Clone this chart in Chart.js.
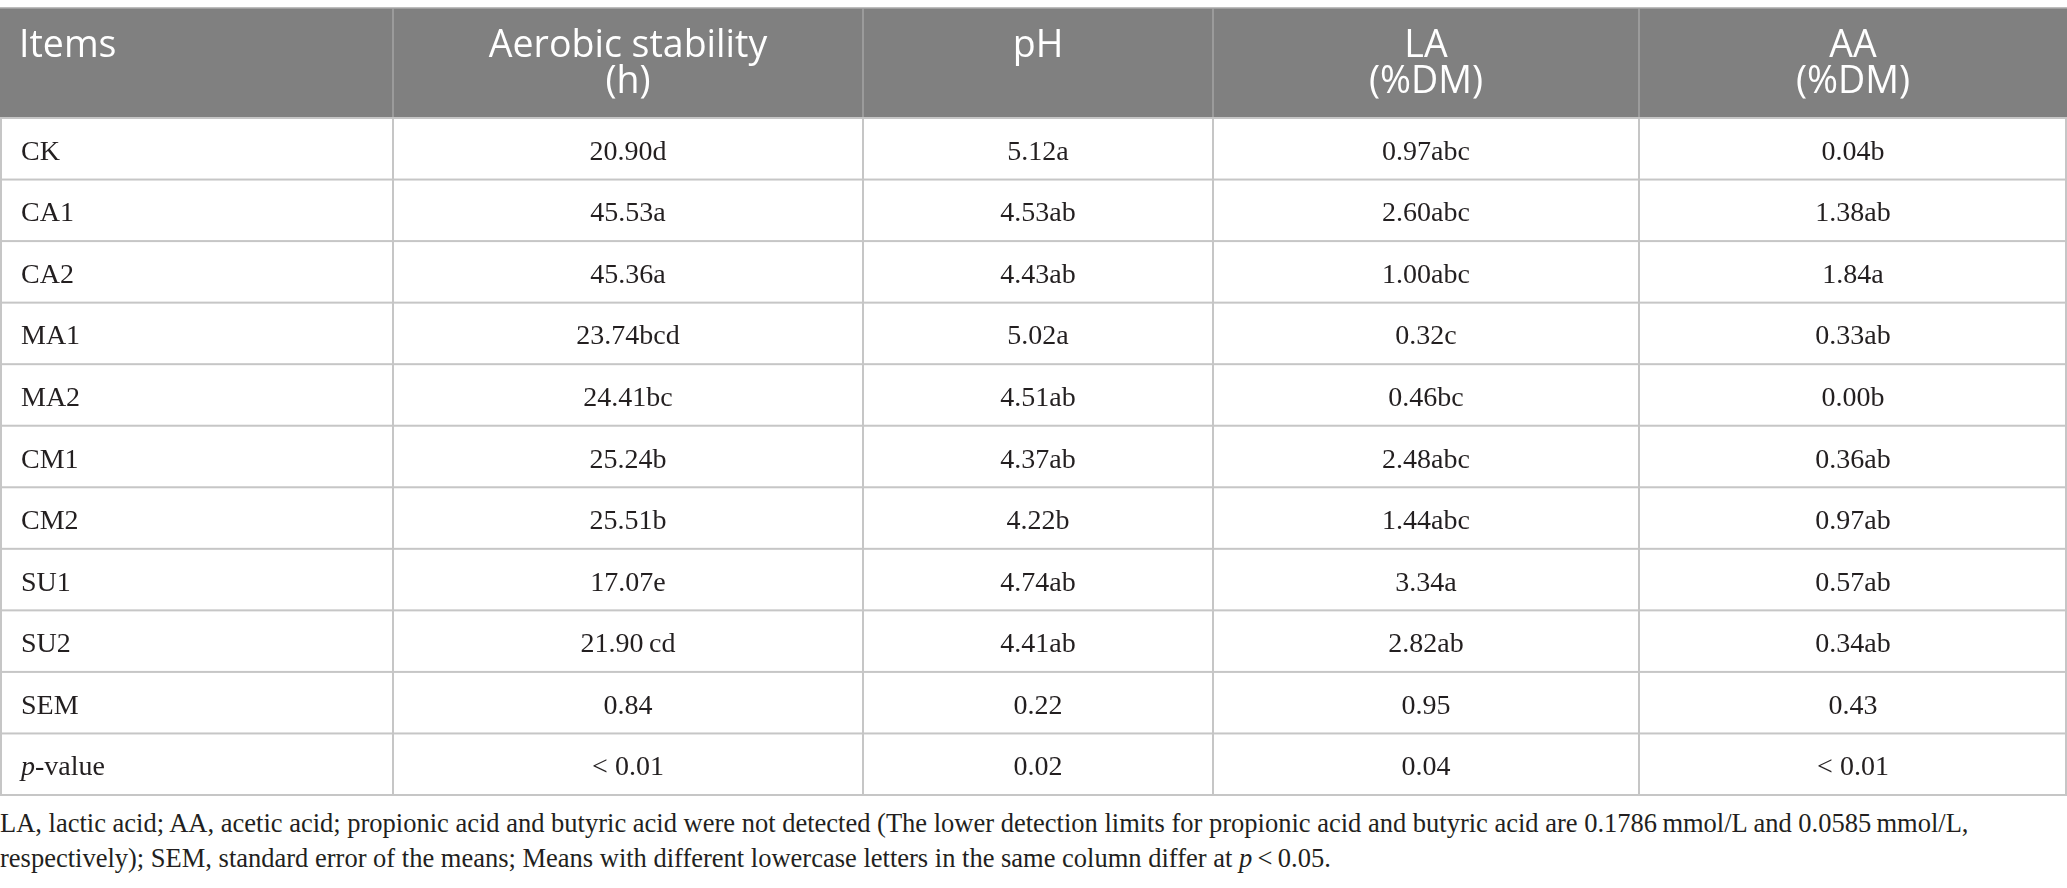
<!DOCTYPE html>
<html lang="en">
<head>
<meta charset="utf-8">
<title>Aerobic stability and fermentation table</title>
<script src="https://cdn.jsdelivr.net/npm/chart.js@4.4.1/dist/chart.umd.min.js"></script>
<style>
  html, body { margin: 0; padding: 0; background: #fff; }
  #wrap { position: relative; width: 2067px; height: 888px; overflow: hidden; }
  #tableCanvas { position: absolute; left: 0; top: 0; }
  #note {
    position: absolute; left: 0; top: 806px; width: 2067px;
    font-family: "Liberation Serif", serif; font-size: 26.5px; line-height: 35px;
    color: #231f20; white-space: nowrap;
  }
</style>
</head>
<body>
<div id="wrap">
  <canvas id="tableCanvas" width="2067" height="797"></canvas>
  <div id="note">LA, lactic acid; AA, acetic acid; propionic acid and butyric acid were not detected (The lower detection limits for propionic acid and butyric acid are 0.1786&#8201;mmol/L and 0.0585&#8201;mmol/L,<br>respectively); SEM, standard error of the means; Means with different lowercase letters in the same column differ at <i>p</i>&#8201;&lt;&#8201;0.05.</div>
</div>

<script>
// ─────────────────────────────────────────────────────────────────────────────
// TABLE DATA
// ─────────────────────────────────────────────────────────────────────────────

const ROW_LABELS = ['CK', 'CA1', 'CA2', 'MA1', 'MA2', 'CM1', 'CM2', 'SU1', 'SU2', 'SEM', '*p*-value'];

const HEADERS = [
  ['Items'],
  ['Aerobic stability', '(h)'],
  ['pH'],
  ['LA', '(%DM)'],
  ['AA', '(%DM)'],
];

const AEROBIC = ['20.90d', '45.53a', '45.36a', '23.74bcd', '24.41bc', '25.24b', '25.51b', '17.07e', '21.90\u2009cd', '0.84', '< 0.01'];
const PH      = ['5.12a', '4.53ab', '4.43ab', '5.02a', '4.51ab', '4.37ab', '4.22b', '4.74ab', '4.41ab', '0.22', '0.02'];
const LA      = ['0.97abc', '2.60abc', '1.00abc', '0.32c', '0.46bc', '2.48abc', '1.44abc', '3.34a', '2.82ab', '0.95', '0.04'];
const AA      = ['0.04b', '1.38ab', '1.84a', '0.33ab', '0.00b', '0.36ab', '0.97ab', '0.57ab', '0.34ab', '0.43', '< 0.01'];

// ─────────────────────────────────────────────────────────────────────────────
// LAYOUT
// ─────────────────────────────────────────────────────────────────────────────

const COL_EDGES   = [0, 393, 863, 1213, 1639, 2067];
const HEAD_TOP    = 8;
const HEAD_BOTTOM = 118;
const HEAD_BG     = '#808080';
const GRID        = '#c6c6c6';
const TEXT        = '#231f20';
const HEAD_FONT   = '37.5px "Open Sans", sans-serif';
const BODY_FONT   = '28px "Liberation Serif", serif';
const BODY_ITALIC = 'italic 28px "Liberation Serif", serif';

// draw text where *x* parts are italic
function drawRich(ctx, text, x, y, align) {
  const parts = text.split('*').map((t, i) => ({ t, italic: i % 2 === 1 })).filter(p => p.t);
  const widths = parts.map(p => { ctx.font = p.italic ? BODY_ITALIC : BODY_FONT; return ctx.measureText(p.t).width; });
  const total = widths.reduce((s, w) => s + w, 0);
  let cx = align === 'center' ? x - total / 2 : x;
  ctx.textAlign = 'left';
  parts.forEach((p, i) => {
    ctx.font = p.italic ? BODY_ITALIC : BODY_FONT;
    ctx.fillText(p.t, cx, y);
    cx += widths[i];
  });
}

const tablePlugin = {
  id: 'tableCells',
  afterDraw(chart) {
    const { ctx, chartArea, scales: { x, y } } = chart;
    const columns = [ROW_LABELS, AEROBIC, PH, LA, AA];
    const rowH = y.getPixelForValue(1) - y.getPixelForValue(0);
    const left = x.getPixelForValue(COL_EDGES[0]);
    const right = x.getPixelForValue(COL_EDGES[COL_EDGES.length - 1]);

    ctx.save();

    // header band
    ctx.fillStyle = HEAD_BG;
    ctx.fillRect(left, HEAD_TOP, right - left, HEAD_BOTTOM - HEAD_TOP);
    ctx.fillStyle = '#bdbdbd';
    ctx.fillRect(left, HEAD_TOP - 1, right - left, 1.5);
    ctx.fillStyle = '#a4a4a4';
    COL_EDGES.slice(1, -1).forEach(e => {
      ctx.fillRect(x.getPixelForValue(e) - 0.75, HEAD_TOP, 1.5, HEAD_BOTTOM - HEAD_TOP);
    });

    // header text
    ctx.fillStyle = '#ffffff';
    ctx.font = HEAD_FONT;
    ctx.textBaseline = 'alphabetic';
    HEADERS.forEach((lines, c) => {
      const x0 = x.getPixelForValue(COL_EDGES[c]);
      const x1 = x.getPixelForValue(COL_EDGES[c + 1]);
      lines.forEach((line, k) => {
        const by = HEAD_TOP + 49 + k * 36;
        if (c === 0) {
          ctx.textAlign = 'left';
          ctx.fillText(line, x0 + 19, by);
        } else {
          ctx.textAlign = 'center';
          ctx.fillText(line, (x0 + x1) / 2, by);
        }
      });
    });

    // body grid
    ctx.fillStyle = GRID;
    for (let i = 0; i <= ROW_LABELS.length; i++) {
      const ly = y.getPixelForValue(i) - rowH / 2;
      ctx.fillRect(left, ly - 1, right - left, 2);
    }
    COL_EDGES.forEach((e, i) => {
      let ex = x.getPixelForValue(e) - 1;
      if (i === 0) ex = left;
      if (i === COL_EDGES.length - 1) ex = right - 2;
      ctx.fillRect(ex, chartArea.top, 2, chartArea.bottom - chartArea.top);
    });

    // body text
    ctx.fillStyle = TEXT;
    columns.forEach((col, c) => {
      const x0 = x.getPixelForValue(COL_EDGES[c]);
      const x1 = x.getPixelForValue(COL_EDGES[c + 1]);
      col.forEach((val, r) => {
        const cy = y.getPixelForValue(r) + 11;
        if (c === 0) drawRich(ctx, val, x0 + 21, cy, 'left');
        else drawRich(ctx, val, (x0 + x1) / 2, cy, 'center');
      });
    });

    ctx.restore();
  }
};

function initTable() {
  const canvas = document.getElementById('tableCanvas');
  new Chart(canvas.getContext('2d'), {
    type: 'bar',
    data: { labels: ROW_LABELS, datasets: [] },
    options: {
      responsive: false,
      animation: false,
      devicePixelRatio: 1,
      layout: { padding: { top: HEAD_BOTTOM, bottom: 2, left: 0, right: 0 } },
      plugins: { legend: { display: false }, tooltip: { enabled: false } },
      scales: {
        x: { type: 'linear', min: COL_EDGES[0], max: COL_EDGES[COL_EDGES.length - 1], offset: false, display: false },
        y: { type: 'category', labels: ROW_LABELS, offset: true, display: false },
      },
    },
    plugins: [tablePlugin],
  });
}

document.addEventListener('DOMContentLoaded', initTable);
</script>
</body>
</html>
